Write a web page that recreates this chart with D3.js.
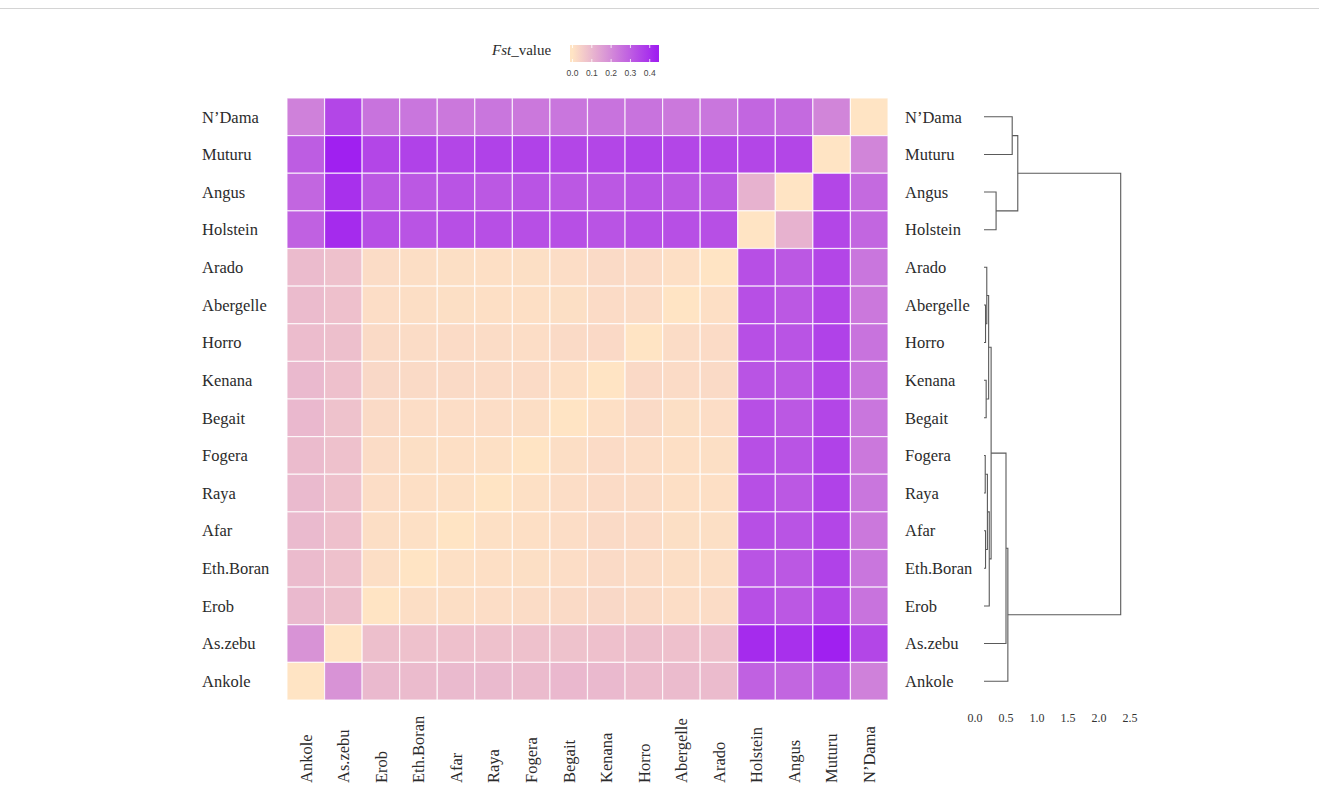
<!DOCTYPE html>
<html>
<head>
<meta charset="utf-8">
<script src="https://cdn.jsdelivr.net/npm/d3@7"></script>
<style>
  body { margin: 0; background: #fff; }
  svg { display: block; }
</style>
</head>
<body>
<svg id="chart" width="1319" height="787"></svg>
<script>
// Breeds, top to bottom (also the order of fstMatrix rows and columns)
const rowBreeds = ["N’Dama", "Muturu", "Angus", "Holstein", "Arado", "Abergelle", "Horro", "Kenana",
  "Begait", "Fogera", "Raya", "Afar", "Eth.Boran", "Erob", "As.zebu", "Ankole"];

// Breeds, left to right along the bottom
const colBreeds = ["Ankole", "As.zebu", "Erob", "Eth.Boran", "Afar", "Raya", "Fogera", "Begait",
  "Kenana", "Horro", "Abergelle", "Arado", "Holstein", "Angus", "Muturu", "N’Dama"];

// Pairwise Fst, symmetric, in rowBreeds order
const fstMatrix = [
  [0, .21, .27, .28, .245, .24, .25, .25, .245, .24, .245, .24, .245, .25, .35, .22],
  [.21, 0, .35, .35, .35, .35, .36, .35, .35, .36, .36, .35, .36, .35, .435, .30],
  [.27, .35, 0, .11, .31, .31, .32, .31, .31, .32, .31, .32, .31, .31, .40, .28],
  [.28, .35, .11, 0, .33, .33, .33, .32, .33, .33, .33, .33, .32, .33, .41, .29],
  [.245, .35, .31, .33, 0, .010, .020, .022, .015, .012, .010, .012, .014, .018, .078, .092],
  [.24, .35, .31, .33, .010, 0, .018, .020, .012, .010, .010, .012, .014, .016, .080, .090],
  [.25, .36, .32, .33, .020, .018, 0, .024, .022, .016, .018, .020, .018, .022, .082, .088],
  [.25, .35, .31, .32, .022, .020, .024, 0, .010, .020, .020, .022, .022, .026, .080, .095],
  [.245, .35, .31, .33, .015, .012, .022, .010, 0, .014, .016, .016, .016, .022, .076, .098],
  [.24, .36, .32, .33, .012, .010, .016, .020, .014, 0, .008, .010, .012, .018, .078, .092],
  [.245, .36, .31, .33, .010, .010, .018, .020, .016, .008, 0, .008, .010, .016, .078, .094],
  [.24, .35, .32, .33, .012, .012, .020, .022, .016, .010, .008, 0, .008, .014, .080, .094],
  [.245, .36, .31, .32, .014, .014, .018, .022, .016, .012, .010, .008, 0, .014, .078, .090],
  [.25, .35, .31, .33, .018, .016, .022, .026, .022, .018, .016, .014, .014, 0, .082, .096],
  [.35, .435, .40, .41, .078, .080, .082, .080, .076, .078, .078, .080, .078, .082, 0, .18],
  [.22, .30, .28, .29, .092, .090, .088, .095, .098, .092, .094, .094, .090, .096, .18, 0]
];

const legendTicks = [0, 0.1, 0.2, 0.3, 0.4];
const dendroTicks = [0, 0.5, 1.0, 1.5, 2.0, 2.5];

// Hierarchical clustering merges: [node id, left child, right child, height]
const dendroMerges = [
  ["n1", "Abergelle", "Horro", 0.17],
  ["n2", "Arado", "n1", 0.19],
  ["n3", "Kenana", "Begait", 0.18],
  ["n4", "n2", "n3", 0.22],
  ["n5", "Fogera", "Raya", 0.165],
  ["n6", "Afar", "Eth.Boran", 0.17],
  ["n7", "n5", "n6", 0.20],
  ["n8", "n7", "Erob", 0.23],
  ["n9", "n4", "n8", 0.26],
  ["n10", "n9", "As.zebu", 0.50],
  ["n11", "n10", "Ankole", 0.53],
  ["n12", "Angus", "Holstein", 0.34],
  ["n13", "N’Dama", "Muturu", 0.60],
  ["n14", "n13", "n12", 0.69],
  ["root", "n14", "n11", 2.35]
];

const svg = d3.select("#chart");
const serif = "'Liberation Serif', 'Times New Roman', serif";
const textColor = "#2b2b2b";

// thin rule along the top of the page
svg.append("line")
  .attr("x1", 0).attr("x2", 1319).attr("y1", 8.5).attr("y2", 8.5)
  .attr("stroke", "#d4d4d4").attr("stroke-width", 1);

// ---- heatmap ----
const x = d3.scaleBand().domain(colBreeds).range([287, 888]);
const y = d3.scaleBand().domain(rowBreeds).range([98, 700]);
const fstMax = d3.max(fstMatrix.flat());
const color = d3.scaleLinear()
  .domain([0, fstMax])
  .range(["#ffe4c4", "#a020f0"])
  .interpolate(d3.interpolateRgb);

const cells = [];
rowBreeds.forEach((r, i) => {
  colBreeds.forEach(c => {
    cells.push({ row: r, col: c, value: fstMatrix[i][rowBreeds.indexOf(c)] });
  });
});

svg.append("g").selectAll("rect")
  .data(cells)
  .join("rect")
  .attr("x", d => x(d.col))
  .attr("y", d => y(d.row))
  .attr("width", x.bandwidth())
  .attr("height", y.bandwidth())
  .attr("fill", d => color(d.value))
  .attr("stroke", "#ffffff")
  .attr("stroke-opacity", 0.75)
  .attr("stroke-width", 1.2);

// row labels, left
svg.append("g").selectAll("text")
  .data(rowBreeds)
  .join("text")
  .attr("x", 202)
  .attr("y", d => y(d) + y.bandwidth() / 2)
  .attr("dy", "0.35em")
  .attr("font-family", serif)
  .attr("font-size", 16.5)
  .attr("fill", textColor)
  .text(d => d);

// column labels, bottom, reading upward
svg.append("g").selectAll("text")
  .data(colBreeds)
  .join("text")
  .attr("transform", d => `translate(${x(d) + x.bandwidth() / 2},783) rotate(-90)`)
  .attr("dy", "0.35em")
  .attr("text-anchor", "start")
  .attr("font-family", serif)
  .attr("font-size", 16.5)
  .attr("fill", textColor)
  .text(d => d);

// ---- legend ----
const legendX = d3.scaleLinear().domain([0, fstMax]).range([572.5, 656.5]);
const barX0 = 570, barX1 = 659, barY = 45, barH = 17;
const defs = svg.append("defs");
const grad = defs.append("linearGradient").attr("id", "fstGrad")
  .attr("gradientUnits", "userSpaceOnUse")
  .attr("x1", legendX(0)).attr("x2", legendX(fstMax)).attr("y1", 0).attr("y2", 0);
d3.range(0, 1.0001, 0.1).forEach(t => {
  grad.append("stop").attr("offset", t).attr("stop-color", color(t * fstMax));
});
svg.append("rect")
  .attr("x", barX0).attr("y", barY).attr("width", barX1 - barX0).attr("height", barH)
  .attr("fill", "url(#fstGrad)");
const tickG = svg.append("g");
legendTicks.forEach(t => {
  tickG.append("line")
    .attr("x1", legendX(t)).attr("x2", legendX(t))
    .attr("y1", barY).attr("y2", barY + 3)
    .attr("stroke", "#fff").attr("stroke-width", 0.8);
  tickG.append("line")
    .attr("x1", legendX(t)).attr("x2", legendX(t))
    .attr("y1", barY + barH - 3).attr("y2", barY + barH)
    .attr("stroke", "#fff").attr("stroke-width", 0.8);
});
svg.append("g").selectAll("text")
  .data(legendTicks)
  .join("text")
  .attr("x", d => legendX(d))
  .attr("y", 73)
  .attr("dy", "0.35em")
  .attr("text-anchor", "middle")
  .attr("font-family", "'Liberation Sans', Arial, sans-serif")
  .attr("font-size", 8.5)
  .attr("fill", "#444")
  .text(d => d3.format(".1f")(d));

const title = svg.append("text")
  .attr("x", 492).attr("y", 55)
  .attr("font-family", serif)
  .attr("font-size", 15)
  .attr("fill", textColor);
title.append("tspan").attr("font-style", "italic").text("Fst");
title.append("tspan").text("_value");

// ---- dendrogram ----
const xDen = d3.scaleLinear().domain([0, 2.5]).range([975, 1130]);
const tipGap = 9;
const nodes = new Map();
rowBreeds.forEach(b => nodes.set(b, { x: xDen(0) + tipGap, y: y(b) + y.bandwidth() / 2 }));

const denG = svg.append("g")
  .attr("fill", "none")
  .attr("stroke", "#5a5a5a")
  .attr("stroke-width", 1.1);
dendroMerges.forEach(([id, a, b, h]) => {
  const A = nodes.get(a), B = nodes.get(b);
  const nx = xDen(h);
  denG.append("path")
    .attr("d", `M${A.x},${A.y}H${nx}V${B.y}H${B.x}`);
  nodes.set(id, { x: nx, y: (A.y + B.y) / 2 });
});

// dendrogram leaf labels
svg.append("g").selectAll("text")
  .data(rowBreeds)
  .join("text")
  .attr("x", 905)
  .attr("y", d => y(d) + y.bandwidth() / 2)
  .attr("dy", "0.35em")
  .attr("font-family", serif)
  .attr("font-size", 16.5)
  .attr("fill", textColor)
  .text(d => d);

// dendrogram height axis labels
svg.append("g").selectAll("text")
  .data(dendroTicks)
  .join("text")
  .attr("x", d => xDen(d))
  .attr("y", 718)
  .attr("dy", "0.35em")
  .attr("text-anchor", "middle")
  .attr("font-family", serif)
  .attr("font-size", 12)
  .attr("fill", "#333")
  .text(d => d3.format(".1f")(d));
</script>
</body>
</html>
